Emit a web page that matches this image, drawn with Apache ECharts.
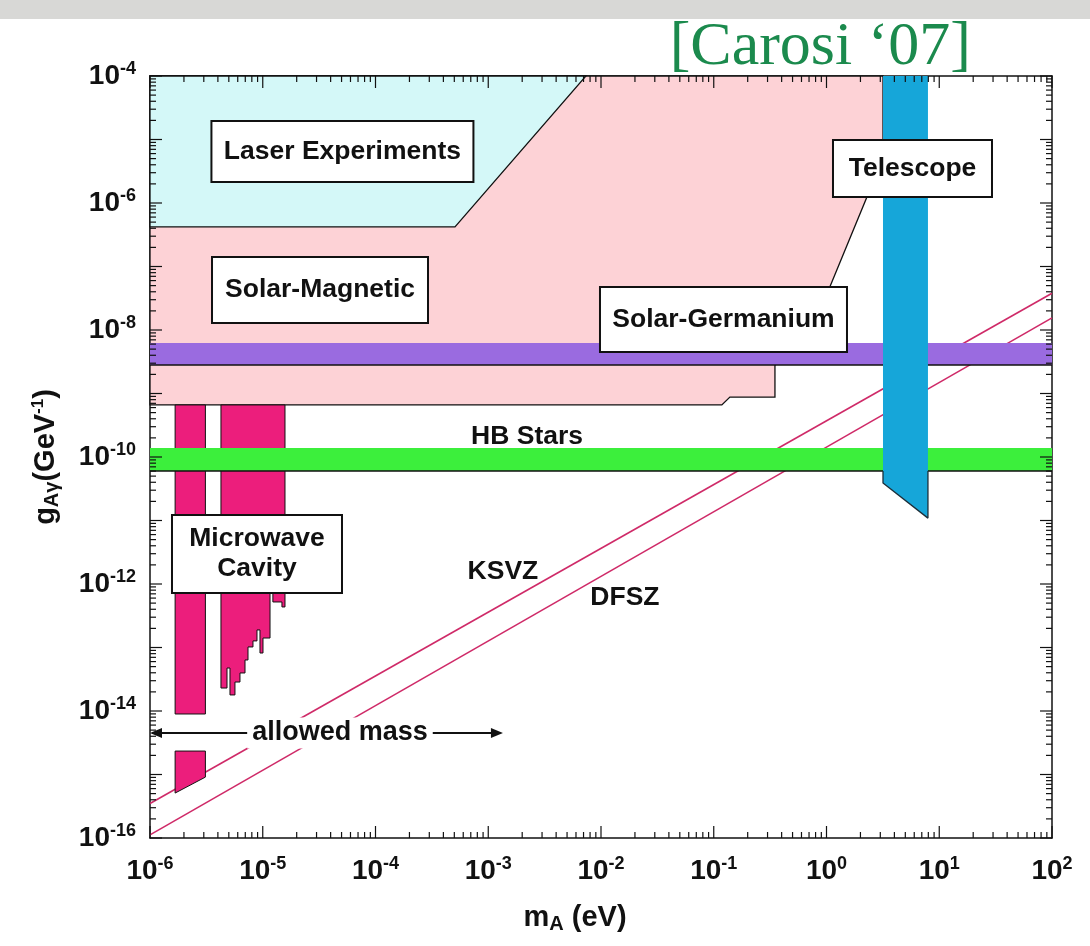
<!DOCTYPE html>
<html>
<head>
<meta charset="utf-8">
<script src="https://cdn.jsdelivr.net/npm/echarts@6/dist/echarts.min.js"></script>
<style>
  html, body { margin: 0; padding: 0; background: #fff; }
  #chart { width: 1090px; height: 946px; }
</style>
</head>
<body>
<div id="chart"></div>
<script>
// Axion–photon coupling g_Aγ versus axion mass m_A: excluded regions and model lines.

// axis extents
const massRange = [1e-6, 1e2];          // m_A in eV
const couplingRange = [1e-16, 1e-4];    // g_Aγ in GeV^-1

// tick exponents
const massExponents = [-6, -5, -4, -3, -2, -1, 0, 1, 2];
const couplingExponents = [-16, -15, -14, -13, -12, -11, -10, -9, -8, -7, -6, -5, -4];
const couplingLabelExponents = [-16, -14, -12, -10, -8, -6, -4];
const minorMultipliers = [2, 3, 4, 5, 6, 7, 8, 9];

// excluded regions, vertices as [m_A, g_Aγ]
const laserRegion = [[1e-6, 1e-4], [1e-6, 4.2e-7], [5.07e-4, 4.2e-7], [7.36e-3, 1e-4]];
const solarMagneticRegion = [
  [1e-6, 1e-4], [3.17, 1e-4], [3.17, 5.1e-6], [1.07, 4.75e-8], [0.67, 6.2e-9],
  [0.349, 2.8e-9], [0.349, 8.8e-10], [0.139, 8.8e-10], [0.118, 6.6e-10], [1e-6, 6.6e-10]
];
const solarGermaniumBand = [6.24e-9, 2.81e-9];   // upper, lower coupling
const hbStarsBand = [1.39e-10, 6.0e-11];         // upper, lower coupling
const telescopeRegion = [[3.17, 1e-4], [7.94, 1e-4], [7.94, 1.09e-11], [3.17, 3.9e-11]];
const telescopeLowerEdge = [[3.17, 6.0e-11], [3.17, 3.9e-11], [7.94, 1.09e-11], [7.94, 6.0e-11]];

// microwave cavity searches
const cavityRegionA = [[1.67e-6, 6.6e-10], [3.1e-6, 6.6e-10], [3.1e-6, 8.97e-15], [1.67e-6, 8.97e-15]];
const cavityRegionB = [[1.67e-6, 2.34e-15], [3.1e-6, 2.34e-15], [3.1e-6, 9.1e-16], [1.67e-6, 5.1e-16]];
const cavityScanTop = 6.6e-10;
const cavityScanEdges = [4.26e-6, 4.82e-6, 5.12e-6, 5.67e-6, 6.28e-6, 6.96e-6, 7.40e-6, 8.19e-6,
                         8.89e-6, 9.45e-6, 1.005e-5, 1.16e-5, 1.23e-5, 1.48e-5, 1.575e-5];
const cavityScanLimits = [2.30e-14, 4.75e-14, 1.79e-14, 2.86e-14, 3.97e-14, 6.36e-14, 1.02e-13,
                          1.27e-13, 1.89e-13, 8.19e-14, 1.41e-13, 8.05e-13, 5.21e-13, 4.35e-13];

// benchmark axion models
const ksvzLine = [[1e-6, 3.5e-16], [1e2, 3.8e-8]];
const dfszLine = [[1e-6, 1.12e-16], [1e2, 1.55e-8]];

// annotation texts and their anchors [m_A, g_Aγ]
const annotations = [
  { text: 'Laser Experiments', at: [5.09e-5, 6.5e-6], box: true },
  { text: 'Solar-Magnetic', at: [3.22e-5, 4.27e-8], box: true },
  { text: 'Solar-Germanium', at: [0.122, 1.46e-8], box: true },
  { text: 'Telescope', at: [5.79, 3.49e-6], box: true },
  { text: 'Microwave\nCavity', at: [8.89e-6, 2.96e-12], box: true },
  { text: 'HB Stars', at: [2.21e-3, 2.07e-10], box: false },
  { text: 'KSVZ', at: [1.35e-3, 1.55e-12], box: false },
  { text: 'DFSZ', at: [1.63e-2, 6.0e-13], box: false }
];
const allowedMass = { text: 'allowed mass', from: [1e-6, 4.5e-15], to: [1.35e-3, 4.5e-15], textAt: [4.84e-5, 4.5e-15] };

// ---- styling ----
const FONT = '"Liberation Sans", Arial, Helvetica, sans-serif';
const INK = '#111';
const boxSizes = {
  'Laser Experiments': [262, 61],
  'Solar-Magnetic': [216, 66],
  'Solar-Germanium': [247, 65],
  'Telescope': [159, 57],
  'Microwave\nCavity': [170, 78]
};

const pow10 = e => Math.pow(10, e);
const massDecades = massExponents.map(pow10);
const couplingDecades = couplingExponents.map(pow10);
const couplingLabelValues = couplingLabelExponents.map(pow10);

// build the stepped outline of the second cavity scan from its bins
function cavityScanPolygon() {
  const pts = [[cavityScanEdges[0], cavityScanTop], [cavityScanEdges[cavityScanEdges.length - 1], cavityScanTop]];
  for (let i = cavityScanLimits.length - 1; i >= 0; i--) {
    pts.push([cavityScanEdges[i + 1], cavityScanLimits[i]]);
    pts.push([cavityScanEdges[i], cavityScanLimits[i]]);
  }
  return pts;
}

function polygonSeries(name, pts, style, z) {
  return {
    type: 'custom', name, z, silent: true,
    coordinateSystem: 'cartesian2d',
    data: [pts[0]],
    renderItem: function (params, api) {
      return {
        type: 'polygon',
        shape: { points: pts.map(p => api.coord(p)) },
        style: Object.assign({}, style)
      };
    }
  };
}

function bandSeries(name, band, color, z) {
  return {
    type: 'custom', name, z, silent: true,
    coordinateSystem: 'cartesian2d',
    data: [[massRange[0], band[0]]],
    renderItem: function (params, api) {
      const tl = api.coord([massRange[0], band[0]]);
      const br = api.coord([massRange[1], band[1]]);
      return {
        type: 'group',
        children: [
          { type: 'rect', shape: { x: tl[0], y: tl[1], width: br[0] - tl[0], height: br[1] - tl[1] }, style: { fill: color } },
          { type: 'line', shape: { x1: tl[0], y1: br[1], x2: br[0], y2: br[1] }, style: { stroke: INK, lineWidth: 1.5 } }
        ]
      };
    }
  };
}

function modelLine(name, pts) {
  return {
    type: 'line', name, z: 3, silent: true,
    data: pts, symbol: 'none',
    lineStyle: { color: '#cf2a68', width: 1.6 }
  };
}

// decade ticks and 2..9 × 10^n ticks on all four sides, pointing inward
const tickSeries = {
  type: 'custom', name: 'ticks', z: 20, silent: true,
  coordinateSystem: 'cartesian2d',
  data: [[1, 1e-10]],
  renderItem: function (params, api) {
    const kids = [];
    const st = { stroke: INK, lineWidth: 1.2 };
    const xTick = (v, L) => {
      const b = api.coord([v, couplingRange[0]]);
      const t = api.coord([v, couplingRange[1]]);
      kids.push({ type: 'line', shape: { x1: b[0], y1: b[1], x2: b[0], y2: b[1] - L }, style: st });
      kids.push({ type: 'line', shape: { x1: t[0], y1: t[1], x2: t[0], y2: t[1] + L }, style: st });
    };
    const yTick = (v, L) => {
      const l = api.coord([massRange[0], v]);
      const r = api.coord([massRange[1], v]);
      kids.push({ type: 'line', shape: { x1: l[0], y1: l[1], x2: l[0] + L, y2: l[1] }, style: st });
      kids.push({ type: 'line', shape: { x1: r[0], y1: r[1], x2: r[0] - L, y2: r[1] }, style: st });
    };
    massDecades.forEach(v => xTick(v, 12));
    couplingDecades.forEach(v => yTick(v, 12));
    for (let i = 0; i < massExponents.length - 1; i++) {
      minorMultipliers.forEach(k => xTick(k * pow10(massExponents[i]), 6));
    }
    for (let i = 0; i < couplingExponents.length - 1; i++) {
      minorMultipliers.forEach(k => yTick(k * pow10(couplingExponents[i]), 6));
    }
    return { type: 'group', children: kids };
  }
};

const labelSeries = {
  type: 'custom', name: 'labels', z: 30, silent: true,
  coordinateSystem: 'cartesian2d',
  data: annotations.map(a => a.at),
  renderItem: function (params, api) {
    const a = annotations[params.dataIndex];
    const c = api.coord(a.at);
    const kids = [];
    if (a.box) {
      const s = boxSizes[a.text];
      kids.push({
        type: 'rect',
        shape: { x: c[0] - s[0] / 2, y: c[1] - s[1] / 2, width: s[0], height: s[1] },
        style: { fill: '#fff', stroke: INK, lineWidth: 2 }
      });
    }
    kids.push({
      type: 'text', x: c[0], y: c[1],
      style: {
        text: a.text, align: 'center', verticalAlign: 'middle',
        fontFamily: FONT, fontWeight: 'bold', fontSize: 26.5, lineHeight: 30, fill: INK
      }
    });
    return { type: 'group', children: kids };
  }
};

const arrowSeries = {
  type: 'custom', name: 'allowed mass', z: 30, silent: true,
  coordinateSystem: 'cartesian2d',
  data: [allowedMass.textAt],
  renderItem: function (params, api) {
    const p0 = api.coord(allowedMass.from);
    const p1 = api.coord(allowedMass.to);
    const pt = api.coord(allowedMass.textAt);
    const h = 12, w = 5;
    return {
      type: 'group',
      children: [
        { type: 'line', shape: { x1: p0[0] + 2, y1: p0[1], x2: p1[0] - 4, y2: p1[1] }, style: { stroke: INK, lineWidth: 2 } },
        { type: 'polygon', shape: { points: [[p0[0], p0[1]], [p0[0] + h, p0[1] - w], [p0[0] + h, p0[1] + w]] }, style: { fill: INK } },
        { type: 'polygon', shape: { points: [[p1[0], p1[1]], [p1[0] - h, p1[1] - w], [p1[0] - h, p1[1] + w]] }, style: { fill: INK } },
        {
          type: 'text', x: pt[0], y: pt[1],
          style: {
            text: allowedMass.text, align: 'center', verticalAlign: 'middle',
            fontFamily: FONT, fontWeight: 'bold', fontSize: 27, fill: INK,
            backgroundColor: '#fff', padding: [2, 5, 2, 5]
          }
        }
      ]
    };
  }
};

const tickRich = {
  b: { fontFamily: FONT, fontWeight: 'bold', fontSize: 28, color: INK, lineHeight: 30, verticalAlign: 'bottom', padding: [8, 0, 0, 0] },
  s: { fontFamily: FONT, fontWeight: 'bold', fontSize: 18, color: INK, lineHeight: 18, verticalAlign: 'top' }
};
const nameRich = {
  n: { fontFamily: FONT, fontWeight: 'bold', fontSize: 29, color: INK, lineHeight: 32, verticalAlign: 'middle' },
  sub: { fontFamily: FONT, fontWeight: 'bold', fontSize: 20, color: INK, lineHeight: 20, verticalAlign: 'bottom' },
  sup: { fontFamily: FONT, fontWeight: 'bold', fontSize: 17, color: INK, lineHeight: 17, verticalAlign: 'top' }
};

function expLabel(v) {
  const e = Math.round(Math.log10(v));
  return '{b|10}{s|' + e + '}';
}

const axisLine = { show: true, lineStyle: { color: INK, width: 1.5 } };

const option = {
  backgroundColor: '#fff',
  animation: false,
  title: {
    text: '[Carosi \u201807]',
    right: 114, top: 12,
    textStyle: { fontFamily: '"Liberation Serif", "DejaVu Serif", serif', fontSize: 62, fontWeight: 'normal', color: '#1b8a4d' }
  },
  graphic: [
    { type: 'rect', left: 0, top: 0, z: -10, shape: { width: 1090, height: 19 }, style: { fill: '#d8d8d6' } }
  ],
  grid: { left: 150, right: 38, top: 76, bottom: 108, containLabel: false },
  xAxis: [
    {
      type: 'log', logBase: 10, min: massRange[0], max: massRange[1], splitNumber: 8,
      position: 'bottom',
      axisLine, axisTick: { show: false }, splitLine: { show: false },
      axisLabel: { formatter: expLabel, rich: tickRich, margin: 17, customValues: massDecades },
      name: '{n|m}{sub|A}{n| (eV)}', nameLocation: 'middle', nameGap: 64,
      nameTextStyle: { rich: nameRich, padding: [0, 52, 0, 0] }
    },
    {
      type: 'log', logBase: 10, min: massRange[0], max: massRange[1], splitNumber: 8,
      position: 'top',
      axisLine, axisTick: { show: false }, splitLine: { show: false }, axisLabel: { show: false }
    }
  ],
  yAxis: [
    {
      type: 'log', logBase: 10, min: couplingRange[0], max: couplingRange[1], splitNumber: 12,
      position: 'left',
      axisLine, axisTick: { show: false }, splitLine: { show: false },
      axisLabel: {
        formatter: expLabel, customValues: couplingLabelValues,
        rich: tickRich, margin: 14, padding: [0, 0, 2, 0]
      },
      name: '{n|g}{sub|A\u03b3}{n|(GeV}{sup|-1}{n|)}', nameLocation: 'middle', nameGap: 88, nameRotate: 90,
      nameTextStyle: { rich: nameRich }
    },
    {
      type: 'log', logBase: 10, min: couplingRange[0], max: couplingRange[1], splitNumber: 12,
      position: 'right',
      axisLine, axisTick: { show: false }, splitLine: { show: false }, axisLabel: { show: false }
    }
  ],
  series: [
    polygonSeries('Solar-Magnetic', solarMagneticRegion, { fill: '#fdd2d6', stroke: INK, lineWidth: 1.3 }, 1),
    polygonSeries('Laser Experiments', laserRegion, { fill: '#d4f8f8', stroke: INK, lineWidth: 1.3 }, 2),
    modelLine('KSVZ', ksvzLine),
    modelLine('DFSZ', dfszLine),
    polygonSeries('Microwave Cavity A', cavityRegionA, { fill: '#ec1e7c', stroke: INK, lineWidth: 1 }, 4),
    polygonSeries('Microwave Cavity A low', cavityRegionB, { fill: '#ec1e7c', stroke: INK, lineWidth: 1 }, 4),
    polygonSeries('Microwave Cavity B', cavityScanPolygon(), { fill: '#ec1e7c', stroke: INK, lineWidth: 1 }, 4),
    bandSeries('Solar-Germanium', solarGermaniumBand, '#9a6be0', 5),
    bandSeries('HB Stars', hbStarsBand, '#3cef3c', 6),
    polygonSeries('Telescope', telescopeRegion, { fill: '#16a6d9' }, 7),
    {
      type: 'line', name: 'Telescope edge', z: 8, silent: true,
      data: telescopeLowerEdge, symbol: 'none',
      lineStyle: { color: '#1c2f3a', width: 1.3 }
    },
    tickSeries,
    labelSeries,
    arrowSeries
  ]
};

const chart = echarts.init(document.getElementById('chart'), null, { renderer: 'canvas' });
chart.setOption(option);
</script>
</body>
</html>
